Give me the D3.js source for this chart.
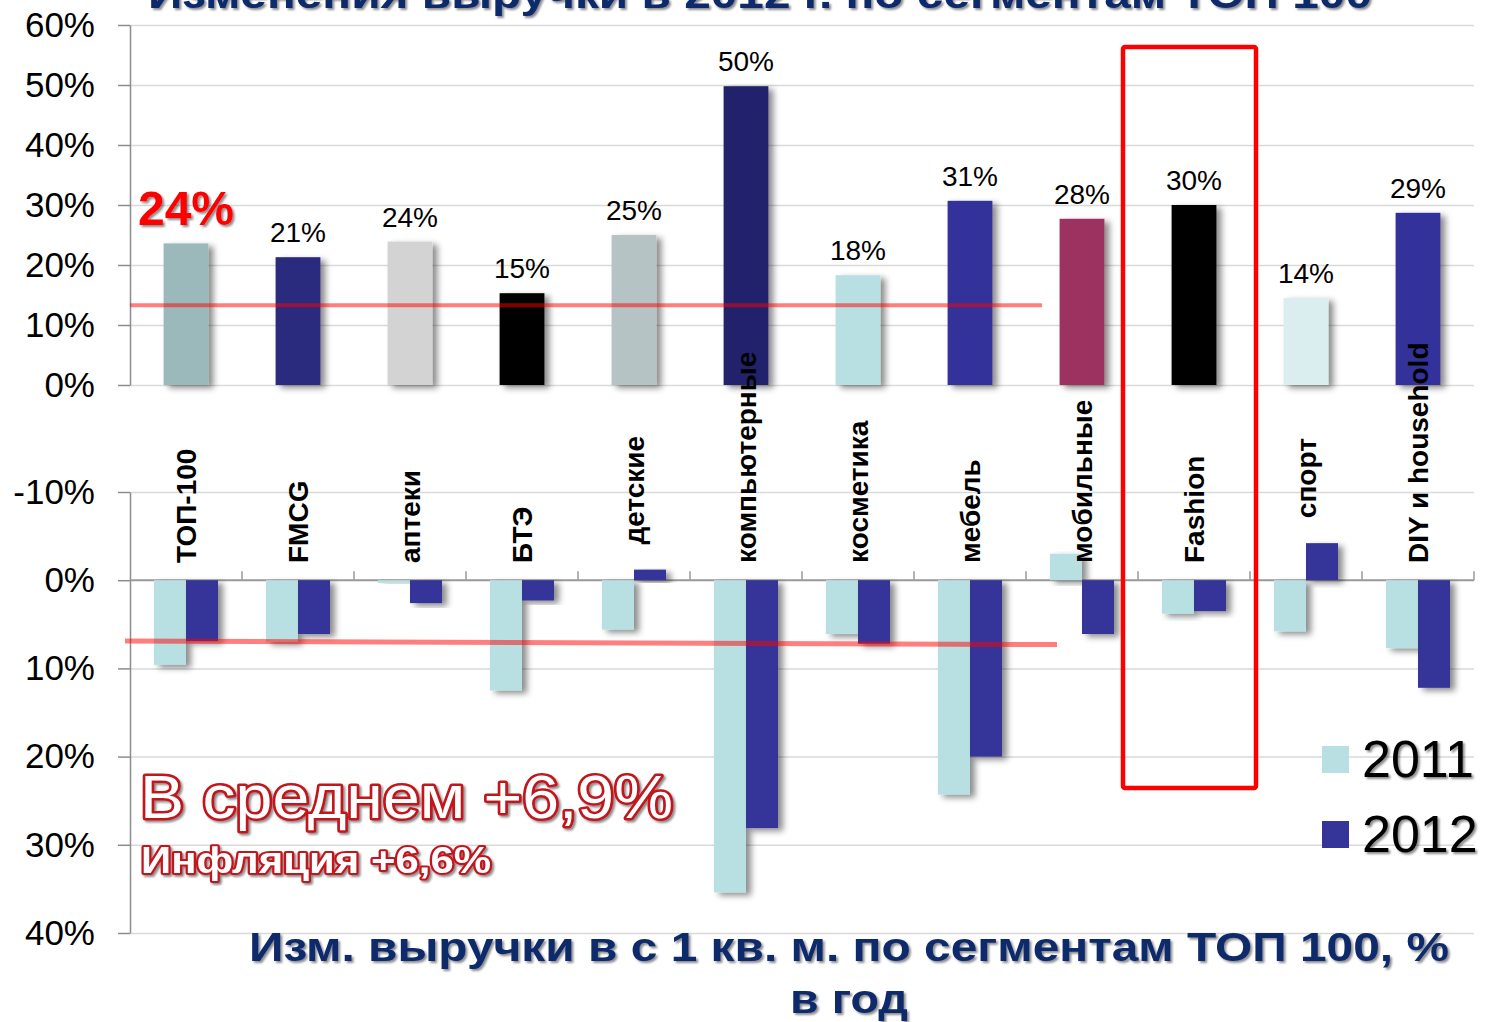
<!DOCTYPE html>
<html>
<head>
<meta charset="utf-8">
<title>Изменения выручки ТОП 100</title>
<style>
  body { margin: 0; background: #fff; }
  text { font-family: "Liberation Sans", Arial, sans-serif; }
  .grid line { stroke: #d9d9d9; stroke-width: 1.5; }
  .grid path { display: none; }
  .yaxis path, .yaxis line { stroke: #8c8c8c; stroke-width: 1.5; }
  .yaxis text { font-size: 35px; fill: #000; }
  .cat { font-size: 28px; font-weight: bold; fill: #000; }
  .val { font-size: 28px; text-anchor: middle; }
</style>
<script src="https://d3js.org/d3.v7.min.js"></script>
</head>
<body>
<script>
// categories shared by both panels
const categories = ["ТОП-100", "FMCG", "аптеки", "БТЭ", "детские", "компьютерные",
  "косметика", "мебель", "мобильные", "Fashion", "спорт", "DIY и household"];

// top panel: revenue change 2012, %
const revenue2012 = [23.6, 21.3, 23.9, 15.3, 25, 49.8, 18.3, 30.7, 27.7, 30, 14.5, 28.7];
const revenueLabels = ["24%", "21%", "24%", "15%", "25%", "50%", "18%", "31%", "28%", "30%", "14%", "29%"];
const barColors = ["#9bb8bb", "#2a2a7e", "#d3d3d3", "#000000", "#b5c3c4", "#24246c",
  "#b8e0e2", "#33339a", "#9b3060", "#000000", "#daeef0", "#33339a"];
const topTicks = [0, 10, 20, 30, 40, 50, 60];
const topTickLabels = ["0%", "10%", "20%", "30%", "40%", "50%", "60%"];
const topLineValue = 13.3;

// bottom panel: change of revenue per 1 sq. m, %
const years = ["2011", "2012"];
const sqm2011 = [-9.6, -7.0, -0.3, -12.5, -5.6, -35.4, -6.1, -24.3, 3.0, -3.8, -5.8, -7.7];
const sqm2012 = [-6.9, -6.1, -2.6, -2.3, 1.2, -28.1, -7.2, -20.0, -6.1, -3.5, 4.2, -12.2];
const yearColors = ["#b8dfe2", "#343499"];
const bottomTicks = [10, 0, -10, -20, -30, -40];
const bottomTickLabels = ["-10%", "0%", "10%", "20%", "30%", "40%"];
const bottomLine = [-6.9, -7.3];

const W = 1485, H = 1022;
const left = 130, right = 1474;

const svg = d3.select("body").append("svg")
  .attr("width", W).attr("height", H);

const defs = svg.append("defs");
const sh = defs.append("filter").attr("id", "shadow")
  .attr("x", "-30%").attr("y", "-10%").attr("width", "170%").attr("height", "130%");
sh.append("feDropShadow").attr("dx", 5).attr("dy", 3).attr("stdDeviation", 3)
  .attr("flood-color", "#000").attr("flood-opacity", 0.45);
const tsh = defs.append("filter").attr("id", "tshadow");
tsh.append("feDropShadow").attr("dx", 2).attr("dy", 2).attr("stdDeviation", 1)
  .attr("flood-color", "#000").attr("flood-opacity", 0.45);

const x = d3.scaleBand().domain(categories).range([left, right])
  .paddingInner(0.6).paddingOuter(0.3);
const xCat = d3.scaleBand().domain(categories).range([left, right]);

// ---------- top panel ----------
const yTop = d3.scaleLinear().domain([0, 60]).range([385, 25]);

svg.append("g").attr("class", "grid")
  .attr("transform", `translate(${left},0)`)
  .call(d3.axisLeft(yTop).tickValues(topTicks).tickSize(-(right - left)).tickFormat(""));

svg.append("g").attr("class", "yaxis")
  .attr("transform", `translate(${left},0)`)
  .call(d3.axisLeft(yTop).tickValues(topTicks).tickSize(12).tickSizeOuter(0).tickPadding(23)
    .tickFormat((d, i) => topTickLabels[i]));

svg.append("g").selectAll("rect")
  .data(categories)
  .join("rect")
    .attr("x", d => x(d))
    .attr("y", (d, i) => yTop(revenue2012[i]))
    .attr("width", x.bandwidth())
    .attr("height", (d, i) => yTop(0) - yTop(revenue2012[i]))
    .attr("fill", (d, i) => barColors[i])
    .attr("filter", "url(#shadow)");

svg.append("g").selectAll("text")
  .data(categories)
  .join("text")
    .attr("class", "val")
    .attr("x", d => x(d) + x.bandwidth() / 2)
    .attr("y", (d, i) => yTop(revenue2012[i]) - (i === 0 ? 18 : 15))
    .style("font-size", (d, i) => i === 0 ? "48px" : null)
    .style("font-weight", (d, i) => i === 0 ? "bold" : null)
    .style("fill", (d, i) => i === 0 ? "#ff0000" : "#000")
    .attr("filter", (d, i) => i === 0 ? "url(#tshadow)" : null)
    .text((d, i) => revenueLabels[i]);

svg.append("line")
  .attr("x1", left).attr("x2", xCat("мобильные") + 16)
  .attr("y1", yTop(topLineValue)).attr("y2", yTop(topLineValue))
  .attr("stroke", "rgba(255,0,0,0.5)").attr("stroke-width", 4);

// ---------- bottom panel ----------
const yBot = d3.scaleLinear().domain([-40, 10]).range([933, 492]);

svg.append("g").attr("class", "grid")
  .attr("transform", `translate(${left},0)`)
  .call(d3.axisLeft(yBot).tickValues(bottomTicks.filter(d => d !== 0))
    .tickSize(-(right - left)).tickFormat(""));

svg.append("g").attr("class", "yaxis")
  .attr("transform", `translate(${left},0)`)
  .call(d3.axisLeft(yBot).tickValues(bottomTicks).tickSize(12).tickSizeOuter(0).tickPadding(23)
    .tickFormat((d, i) => bottomTickLabels[i]));

// category axis on zero line
const xAxisG = svg.append("g");
xAxisG.append("line")
  .attr("x1", left).attr("x2", right)
  .attr("y1", yBot(0)).attr("y2", yBot(0))
  .attr("stroke", "#999").attr("stroke-width", 2);
xAxisG.selectAll(".tk")
  .data(categories.slice(1).map(c => xCat(c)).concat([right]))
  .join("line")
    .attr("x1", d => d).attr("x2", d => d)
    .attr("y1", yBot(0)).attr("y2", yBot(0) - 9)
    .attr("stroke", "#999").attr("stroke-width", 1.5);

const xSub = d3.scaleBand().domain(years).range([0, 64]);
const series = [sqm2011, sqm2012];

const groups = svg.append("g").selectAll("g")
  .data(categories)
  .join("g")
    .attr("transform", d => `translate(${xCat(d) + xCat.bandwidth() / 2 - 32},0)`);

groups.selectAll("rect")
  .data((d, i) => years.map((y, k) => ({ y, k, v: series[k][i] })))
  .join("rect")
    .attr("x", d => xSub(d.y))
    .attr("width", xSub.bandwidth())
    .attr("y", d => yBot(Math.max(0, d.v)))
    .attr("height", d => Math.abs(yBot(d.v) - yBot(0)))
    .attr("fill", d => yearColors[d.k])
    .attr("filter", "url(#shadow)");

svg.append("line")
  .attr("x1", left - 5).attr("x2", xCat("мобильные") + 31)
  .attr("y1", yBot(bottomLine[0])).attr("y2", yBot(bottomLine[1]))
  .attr("stroke", "rgba(255,0,0,0.5)").attr("stroke-width", 5);

// category labels (rotated), lifted above a positive 2012 bar
svg.append("g").selectAll("text")
  .data(categories)
  .join("text")
    .attr("class", "cat")
    .attr("transform", (d, i) => {
      const yEnd = sqm2012[i] > 0 ? yBot(sqm2012[i]) - 25 : 563;
      return `translate(${xCat(d) + xCat.bandwidth() / 2 + 10},${yEnd}) rotate(-90)`;
    })
    .text(d => d);

// highlight box around Fashion
svg.append("rect")
  .attr("x", xCat("Fashion") - 15).attr("y", 47)
  .attr("width", xCat.bandwidth() + 21).attr("height", 741)
  .attr("rx", 2)
  .attr("fill", "none").attr("stroke", "#ff0000").attr("stroke-width", 4.5);

// legend
const legend = svg.append("g").selectAll("g")
  .data(years)
  .join("g")
    .attr("transform", (d, i) => `translate(1322,${746 + i * 75})`);
legend.append("rect").attr("width", 27).attr("height", 27)
  .attr("fill", (d, i) => yearColors[i]);
legend.append("text").attr("x", 40).attr("y", 31)
  .style("font-size", "52px").attr("fill", "#000")
  .attr("filter", "url(#tshadow)")
  .text(d => d);

// annotations
svg.append("text")
  .attr("x", 140).attr("y", 818)
  .attr("textLength", 533).attr("lengthAdjust", "spacingAndGlyphs")
  .style("font-size", "61px")
  .attr("fill", "#fff").attr("stroke", "#c0141c").attr("stroke-width", 5)
  .attr("paint-order", "stroke").attr("stroke-linejoin", "round")
  .attr("filter", "url(#tshadow)")
  .text("В среднем +6,9%");

svg.append("text")
  .attr("x", 141).attr("y", 873)
  .attr("textLength", 350).attr("lengthAdjust", "spacingAndGlyphs")
  .style("font-size", "36px").style("font-weight", "bold")
  .attr("fill", "#fff").attr("stroke", "#c0141c").attr("stroke-width", 4)
  .attr("paint-order", "stroke").attr("stroke-linejoin", "round")
  .attr("filter", "url(#tshadow)")
  .text("Инфляция +6,6%");

// titles (the upper one is cut by the top edge, as in the original slide)
svg.append("text")
  .attr("x", 760).attr("y", 8).attr("text-anchor", "middle")
  .attr("textLength", 1224).attr("lengthAdjust", "spacingAndGlyphs")
  .style("font-size", "40px").style("font-weight", "bold")
  .attr("fill", "#11296b").attr("filter", "url(#tshadow)")
  .text("Изменения выручки в 2012 г. по сегментам ТОП 100");

const sub = svg.append("text")
  .attr("text-anchor", "middle")
  .style("font-size", "40px").style("font-weight", "bold")
  .attr("fill", "#11296b").attr("filter", "url(#tshadow)");
sub.append("tspan").attr("x", 849).attr("y", 961)
  .attr("textLength", 1200).attr("lengthAdjust", "spacingAndGlyphs")
  .text("Изм. выручки в с 1 кв. м. по сегментам ТОП 100, %");
sub.append("tspan").attr("x", 849).attr("y", 1013)
  .attr("textLength", 118).attr("lengthAdjust", "spacingAndGlyphs")
  .text("в год");
</script>
</body>
</html>
